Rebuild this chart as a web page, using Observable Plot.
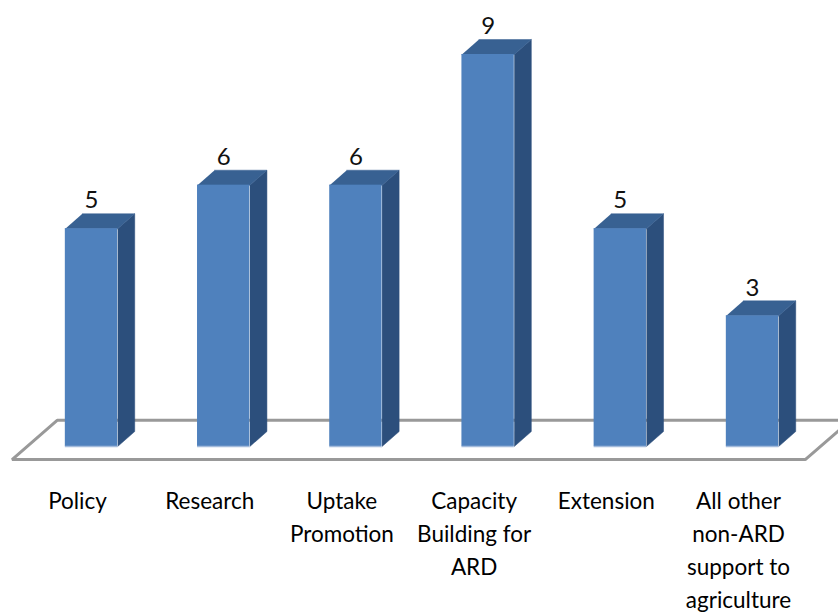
<!DOCTYPE html>
<html>
<head>
<meta charset="utf-8">
<script src="https://cdn.jsdelivr.net/npm/d3@7"></script>
<script src="https://cdn.jsdelivr.net/npm/@observablehq/plot@0.6"></script>
<style>html,body{margin:0;padding:0;background:#fff;overflow:hidden}svg{display:block}</style>
</head>
<body>
<div id="chart"></div>
<script>
const categories = ["Policy", "Research", "Uptake\nPromotion", "Capacity\nBuilding for\nARD", "Extension", "All other\nnon-ARD\nsupport to\nagriculture"];
const values = [5, 6, 6, 9, 5, 3];

const halfWidth = 0.198;
const depthX = 0.129;
const depthY = 0.344;
const floorFrontY = -0.3;
const floorBackY = 0.6;
const floorLeft = [-0.601, -0.26];
const floorRight = [5.399, 5.65];

const table = categories.map((name, i) => ({name, i, value: values[i]}));
const face = (pts, id) => pts.map(([x, y]) => ({x, y, id}));
const sides = table.flatMap(d => face([
  [d.i + halfWidth, 0], [d.i + halfWidth + depthX, depthY],
  [d.i + halfWidth + depthX, d.value + depthY], [d.i + halfWidth, d.value]
], d.i));
const tops = table.flatMap(d => face([
  [d.i - halfWidth, d.value], [d.i + halfWidth, d.value],
  [d.i + halfWidth + depthX, d.value + depthY], [d.i - halfWidth + depthX, d.value + depthY]
], d.i));
const floor = face([
  [floorRight[1], 0.36], [floorRight[0], floorFrontY], [floorLeft[0], floorFrontY],
  [floorLeft[1], floorBackY], [floorRight[1], floorBackY]
], "floor");

const chart = Plot.plot({
  width: 838, height: 613,
  margin: 0,
  x: {domain: [0, 5], range: [91, 752], axis: null},
  y: {domain: [0, 9], range: [446, 54], axis: null},
  style: {background: "#fff", overflow: "visible"},
  marks: [
    Plot.line(floor, {x: "x", y: "y", z: "id", stroke: "#999999", strokeWidth: 3, curve: "linear", strokeLinejoin: "miter"}),
    Plot.line(sides, {x: "x", y: "y", z: "id", fill: "#2c4f7c", stroke: "#2c4f7c", strokeWidth: 0.5}),
    Plot.line(tops, {x: "x", y: "y", z: "id", fill: "#386192", stroke: "#386192", strokeWidth: 0.5}),
    Plot.rect(table, {x1: d => d.i - halfWidth, x2: d => d.i + halfWidth, y1: 0, y2: "value", fill: "#4f81bd"}),
    Plot.ruleY(table, {x1: d => d.i - halfWidth, x2: d => d.i + halfWidth, y: 0, stroke: "#a3bbdc", strokeWidth: 1.5}),
    Plot.text(table, {x: "i", y: "value", text: "value", dy: -28, fontSize: 24, fontFamily: "Lato", fill: "#111"}),
    Plot.text(table, {x: "i", y: 0, text: "name", dx: -14, dy: 39, lineAnchor: "top", lineHeight: 1.47, fontSize: 22.5, fontFamily: "Lato", fill: "#000"})
  ]
});
document.getElementById("chart").append(chart);
</script>
</body>
</html>
